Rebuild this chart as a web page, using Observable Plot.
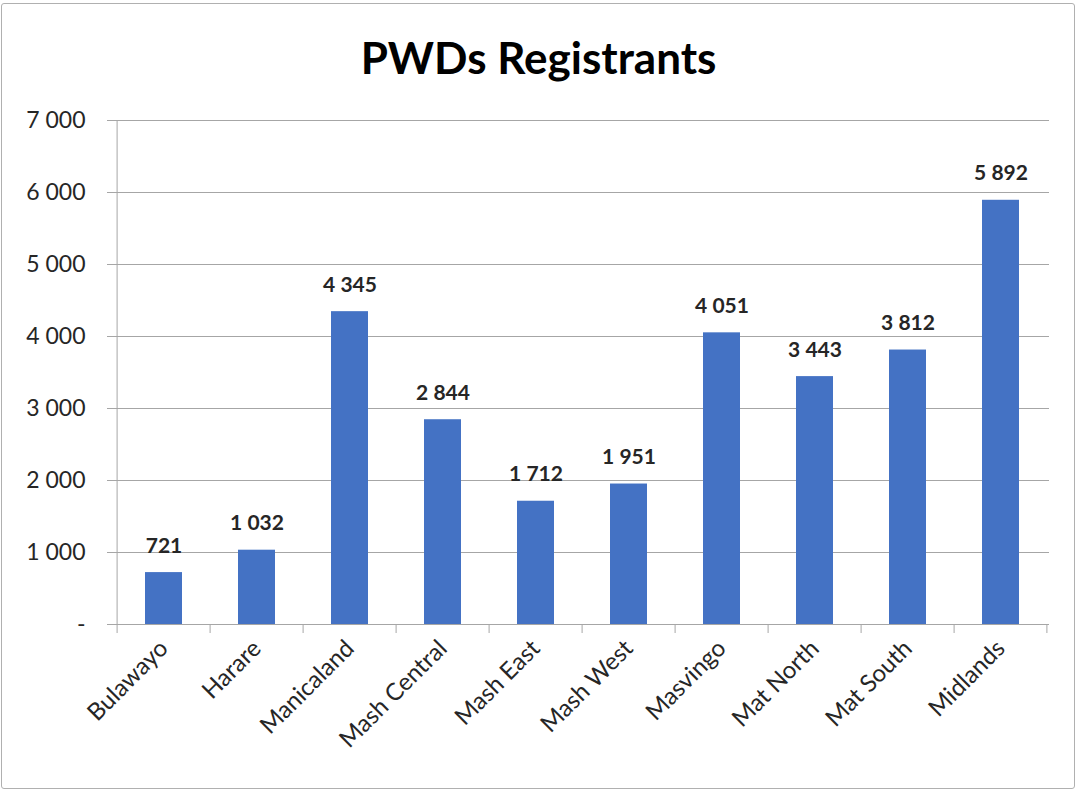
<!DOCTYPE html>
<html>
<head>
<meta charset="utf-8">
<script src="https://cdn.jsdelivr.net/npm/d3@7"></script>
<script src="https://cdn.jsdelivr.net/npm/@observablehq/plot@0.6"></script>
<style>
  html, body { margin: 0; padding: 0; background: #fff; }
  #wrap { position: relative; width: 1077px; height: 790px; overflow: hidden; }
  #border { position: absolute; left: 1px; top: 3px; width: 1074px; height: 786px; border: 1.5px solid #b0b0b0; border-radius: 3px; box-sizing: border-box; }
  #title { position: absolute; left: 0; top: 31px; width: 1077px; text-align: center; font-family: Lato, "Open Sans", sans-serif; font-weight: bold; font-size: 44px; color: #000; }
  #chart { position: absolute; left: 0; top: 0; }
</style>
</head>
<body>
<div id="wrap">
  <div id="border"></div>
  <div id="chart"></div>
  <div id="title">PWDs Registrants</div>
</div>
<script>
const categories = ["Bulawayo", "Harare", "Manicaland", "Mash Central", "Mash East", "Mash West", "Masvingo", "Mat North", "Mat South", "Midlands"];
const values = [721, 1032, 4345, 2844, 1712, 1951, 4051, 3443, 3812, 5892];
const yTicks = [0, 1000, 2000, 3000, 4000, 5000, 6000, 7000];

const data = categories.map((c, i) => ({category: c, value: values[i]}));
const loc = d3.formatLocale({decimal: ".", thousands: " ", grouping: [3], currency: ["", ""]});
const fmt = loc.format(",d");
const font = "Lato, 'Open Sans', sans-serif";
const gridColor = "#a6a6a6";
const textColor = "#262626";

const chart = Plot.plot({
  width: 1077,
  height: 790,
  marginLeft: 116,
  marginRight: 28,
  marginTop: 120,
  marginBottom: 166,
  style: {fontFamily: font, background: "transparent", overflow: "visible"},
  x: {domain: categories, paddingInner: 0.6, paddingOuter: 0.3, label: null},
  y: {domain: [0, 7000], label: null},
  marks: [
    Plot.gridY(yTicks, {stroke: gridColor, strokeOpacity: 1, strokeWidth: 1}),
    Plot.axisY(yTicks, {
      tickSize: 9, tickPadding: 22, stroke: gridColor, strokeOpacity: 1,
      tickFormat: d => d === 0 ? "-" : fmt(d),
      fontSize: 23, fill: textColor, label: null
    }),
    Plot.axisX({
      tickSize: 0, tickPadding: 20, tickRotate: -45,
      fontSize: 24, fill: textColor, label: null
    }),
    Plot.barY(data, {x: "category", y: "value", fill: "#4472C4"}),
    Plot.ruleY([0], {stroke: gridColor, strokeWidth: 1}),
    Plot.text(data, {
      x: "category", y: "value", text: d => fmt(d.value),
      lineAnchor: "bottom", dy: -20, fontSize: 21, fontWeight: "bold", fill: textColor
    })
  ]
});

// Category-boundary tick marks and left axis line, placed from Plot's own x scale
const xs = chart.scale("x");
const ys = chart.scale("y");
const step = xs.step;
const bounds = categories.map(c => xs.apply(c) - xs.paddingOuter * step);
bounds.push(xs.apply(categories[categories.length - 1]) + xs.bandwidth + xs.paddingOuter * step);
const y0 = ys.apply(0), yTop = ys.apply(7000);
const g = d3.select(chart).append("g").attr("stroke", gridColor).attr("stroke-width", 1);
bounds.forEach(b => {
  g.append("line").attr("x1", b).attr("x2", b).attr("y1", y0).attr("y2", y0 + 9);
});
g.append("line").attr("x1", bounds[0]).attr("x2", bounds[0]).attr("y1", yTop).attr("y2", y0);

document.getElementById("chart").appendChild(chart);
</script>
</body>
</html>
